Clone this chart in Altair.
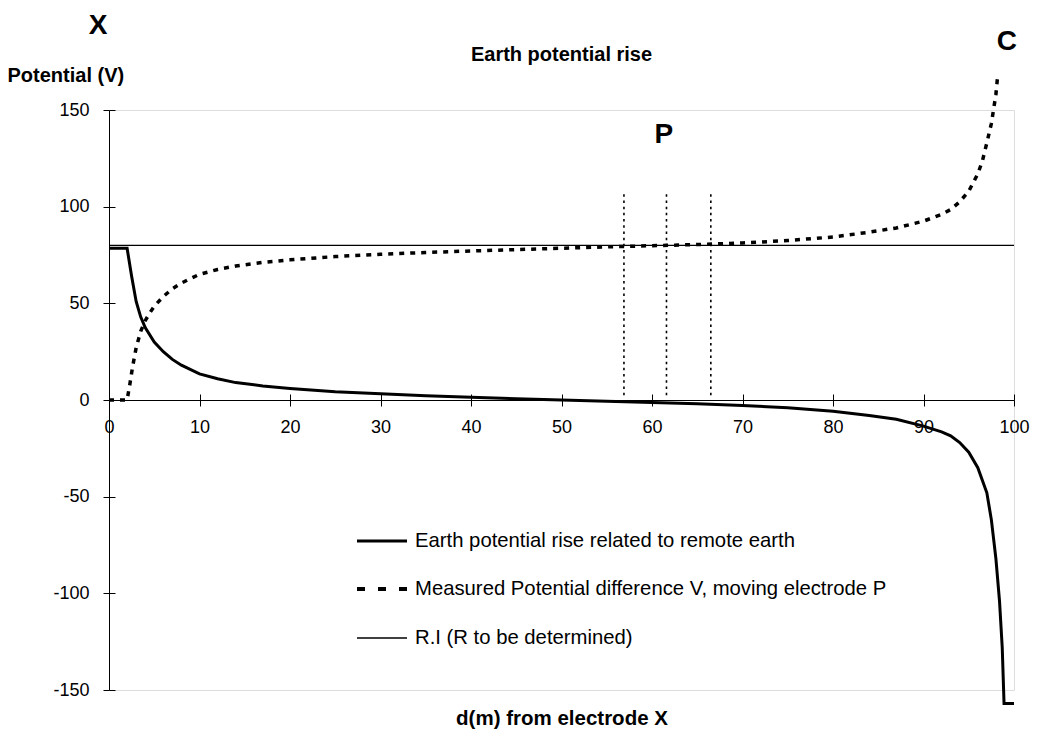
import altair as alt
import pandas as pd

# ---- data ----
d_earth = [0, 2, 2.5, 3, 3.5, 4, 5, 6, 7, 8, 10, 12, 14, 17, 20, 25, 30, 35, 40, 45,
           50, 55, 60, 65, 70, 75, 80, 84, 87, 90, 92, 93, 94, 95, 96, 97, 97.5, 98, 98.4, 98.7,
           98.9, 100]
v_earth = [78.5, 78.5, 64, 51, 43, 37.5, 30, 25, 21, 18, 13.5, 11, 9, 7.3, 6, 4.3, 3.2, 2.2, 1.4, 0.7,
           0, -0.7, -1.3, -2, -2.8, -4, -5.8, -8, -10, -13.5, -16.5, -18.5, -22, -27, -35, -48, -62, -82, -104, -128,
           -157, -157]

d_meas = [0, 2, 2.3, 2.6, 3, 3.5, 4, 4.5, 5, 6, 7, 8, 9, 10, 12, 14, 17, 20, 25, 30,
          35, 40, 45, 50, 55, 60, 65, 70, 75, 80, 84, 87, 90, 92, 93, 94, 95, 96, 96.5, 97,
          97.5, 98, 98.2]
v_meas = [0, 0, 8, 17, 27, 35.5, 41, 45, 48.5, 53.5, 57.5, 60.5, 62.8, 65, 67.5, 69.3, 71.2, 72.5, 74.2, 75.4,
          76.3, 77.1, 77.8, 78.5, 79.2, 79.8, 80.4, 81.2, 82.5, 84.3, 86.8, 89, 92.5, 96, 98.5, 102.5, 108, 117, 123.5, 133,
          143, 158, 168]

ri_d = [0, 100]
ri_v = [80, 80]

p_positions = [56.9, 61.6, 66.5]
p_low = [2.5, 2.5, 2.5]
p_high = [107.5, 107.5, 107.5]

x_ticks = [0, 10, 20, 30, 40, 50, 60, 70, 80, 90, 100]
y_ticks = [-150, -100, -50, 0, 50, 100, 150]

series_names = ["Earth potential rise related to remote earth",
                "Measured Potential difference V, moving electrode P",
                "R.I (R to be determined)"]

letters = ["X", "P", "C"]
letter_d = [-1.2, 61.3, 99.2]
letter_v = [193.5, 137.3, 185]

chart_title = "Earth potential rise"
x_title = "d(m) from electrode X"
y_title = "Potential (V)"

# ---- layout ----
W, H = 905, 580
FONT = "Liberation Sans"

xs = alt.Scale(domain=[0, 100], nice=False, zero=False)
ys = alt.Scale(domain=[-150, 150], nice=False, zero=False)

earth_df = pd.DataFrame({"d": d_earth, "v": v_earth})
meas_df = pd.DataFrame({"d": d_meas, "v": v_meas})
ri_df = pd.DataFrame({"d": ri_d, "v": ri_v})
p_df = pd.DataFrame({"d": p_positions, "lo": p_low, "hi": p_high})
let_df = pd.DataFrame({"t": letters, "d": letter_d, "v": letter_v})

x_main_axis = alt.Axis(orient="bottom", offset=-H / 2, values=x_ticks, tickSize=6,
                       tickColor="black", domainColor="black", domainWidth=1, tickWidth=1,
                       labelFont=FONT, labelFontSize=18, labelColor="black", labelPadding=12,
                       labelFlush=False, labelOverlap=False, grid=False,
                       labelExpr="toString(datum.value)",
                       title=x_title, titleFont=FONT, titleFontSize=20.5, titleFontWeight="bold",
                       titleColor="black", titleX=W / 2, titleY=318, titleAlign="center",
                       titleBaseline="middle")
y_main_axis = alt.Axis(orient="left", values=y_ticks, tickSize=6, tickColor="black",
                       domainColor="black", domainWidth=1, tickWidth=1,
                       labelFont=FONT, labelFontSize=18, labelColor="black", labelPadding=14,
                       labelOverlap=False, grid=False,
                       labelExpr="toString(datum.value)",
                       title=y_title, titleFont=FONT, titleFontSize=20, titleFontWeight="bold",
                       titleColor="black", titleAngle=0, titleX=-102, titleY=-35,
                       titleAlign="left", titleBaseline="middle")
x_top_axis = alt.Axis(orient="top", offset=-H / 2, values=x_ticks, tickSize=6, tickColor="black",
                      tickWidth=1, domain=False, labels=False, grid=False, title=None)
y_right_axis = alt.Axis(orient="right", offset=-W, values=y_ticks, tickSize=6, tickColor="black",
                        tickWidth=1, domain=False, labels=False, grid=False, title=None)

earth = alt.Chart(earth_df).mark_line(color="black", strokeWidth=3, clip=False).encode(
    x=alt.X("d:Q", scale=xs, axis=x_main_axis),
    y=alt.Y("v:Q", scale=ys, axis=y_main_axis),
)

ri = alt.Chart(ri_df).mark_line(color="black", strokeWidth=1.3).encode(
    x=alt.X("d:Q", scale=xs, axis=x_top_axis),
    y=alt.Y("v:Q", scale=ys, axis=y_right_axis),
)

meas = alt.Chart(meas_df).mark_line(color="black", strokeWidth=3.5, strokeDash=[5, 6],
                                    clip=False).encode(
    x=alt.X("d:Q", scale=xs, axis=None),
    y=alt.Y("v:Q", scale=ys, axis=None),
)

pl = alt.Chart(p_df).mark_rule(color="black", strokeWidth=1.6, strokeDash=[2.5, 3.7]).encode(
    x=alt.X("d:Q", scale=xs, axis=None),
    y=alt.Y("lo:Q", scale=ys, axis=None),
    y2="hi:Q",
)

lets = alt.Chart(let_df).mark_text(font=FONT, fontSize=28, fontWeight="bold", color="black",
                                   baseline="middle", align="center").encode(
    x=alt.X("d:Q", scale=xs, axis=None),
    y=alt.Y("v:Q", scale=ys, axis=None),
    text="t:N",
)

title_mark = alt.Chart(pd.DataFrame({"t": [chart_title]})).mark_text(
    font=FONT, fontSize=20, fontWeight="bold", color="black", align="center", baseline="middle"
).encode(x=alt.value(W / 2), y=alt.value(-55), text="t:N")

# legend (manual)
leg_y = [431, 479, 528]
leg_layers = []
leg_layers.append(alt.Chart(pd.DataFrame({"a": [0]})).mark_rule(color="black", strokeWidth=3).encode(
    x=alt.value(248), x2=alt.value(298), y=alt.value(leg_y[0])))
leg_layers.append(alt.Chart(pd.DataFrame({"a": [0]})).mark_rule(color="black", strokeWidth=4,
                                                                strokeDash=[8, 13]).encode(
    x=alt.value(248), x2=alt.value(298), y=alt.value(leg_y[1])))
leg_layers.append(alt.Chart(pd.DataFrame({"a": [0]})).mark_rule(color="black", strokeWidth=1.3).encode(
    x=alt.value(248), x2=alt.value(298), y=alt.value(leg_y[2])))
for name, yy in zip(series_names, leg_y):
    leg_layers.append(alt.Chart(pd.DataFrame({"t": [name]})).mark_text(
        font=FONT, fontSize=20.3, color="black", align="left", baseline="middle").encode(
        x=alt.value(306), y=alt.value(yy), text="t:N"))

chart = alt.layer(earth, ri, meas, pl, lets, title_mark, *leg_layers).resolve_axis(
    x="independent", y="independent"
).properties(
    width=W, height=H,
    autosize=alt.AutoSizeParams(type="none"),
    padding={"left": 101, "top": 102, "right": 20, "bottom": 40},
).configure_view(stroke=None).configure(background="white")

chart.save("out.html", embed_options={"renderer": "svg", "actions": False})
